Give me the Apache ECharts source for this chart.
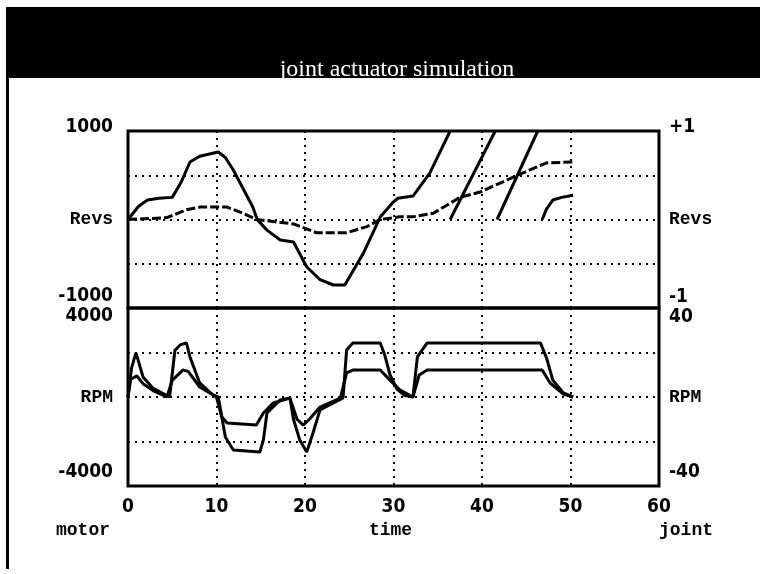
<!DOCTYPE html>
<html><head><meta charset="utf-8">
<script src="https://cdn.jsdelivr.net/npm/echarts@6/dist/echarts.min.js"></script>
<style>html,body{margin:0;padding:0;background:#fff}#c{width:760px;height:574px}</style>
</head><body><div id="c"></div>
<script>
// ---------- data ----------
const titleText = 'joint actuator simulation';
const xMin = 0, xMax = 60, xStep = 10;
const xBottomNames = {0: 'motor', 30: 'time', 60: 'joint'};
const revsLeftLabels = {'1000': '1000', '0': 'Revs', '-1000': '-1000'};
const revsRightLabels = {'1': '+1', '0': 'Revs', '-1': '-1'};
const rpmLeftLabels = {'4000': '4000', '0': 'RPM', '-4000': '-4000'};
const rpmRightLabels = {'40': '40', '0': 'RPM', '-40': '-40'};

// motor revs (wraps back to 0 after reaching 1000; null = break)
const motorRevsT = [0, 1.2, 2.2, 3.5, 5.0, 6.0, 7.0, 8.1, 10.2, 11.0, 11.9, 13.0, 14.1, 14.6, 15.7, 17.2, 18.7, 20.2, 21.7, 23.2, 24.5, 26.6, 28.5, 30.0, 30.5, 32.2, 34.1, 36.4,
  36.4, 36.4, 41.5,
  41.5, 41.7, 46.3,
  46.3, 46.8, 47.3, 48.0, 49.0, 50.3];
const motorRevsV = [0, 150, 220, 240, 250, 420, 650, 715, 763, 700, 560, 350, 141, 0, -120, -232, -254, -537, -680, -740, -740, -380, 28, 200, 240, 265, 525, 1000,
  null, 0, 1000,
  null, 0, 1000,
  null, 0, 120, 220, 250, 275];
// joint revs (right axis, -1..+1)
const jointRevsT = [0, 4.4, 6.6, 8.1, 11.2, 13.0, 14.5, 18.7, 21.3, 24.7, 27.0, 28.5, 30.7, 32.2, 34.5, 37.5, 39.8, 44.0, 47.3, 50.3];
const jointRevsV = [0, 0.02, 0.11, 0.14, 0.14, 0.07, 0, -0.05, -0.15, -0.15, -0.08, 0, 0.03, 0.03, 0.07, 0.25, 0.31, 0.50, 0.64, 0.65];
// motor RPM (left axis, -4000..4000)
const motorRpmT = [0, 0.4, 0.9, 1.7, 2.8, 4.7, 5.3, 5.9, 6.6, 7.0, 8.1, 9.6, 10.2, 10.6, 11.0, 11.9, 14.9, 15.3, 15.7, 17.2, 18.3, 18.7, 19.4, 20.2, 20.9, 21.7, 23.2, 24.3, 24.7, 25.4, 28.5, 29.0, 29.6, 30.4, 31.2, 32.2, 32.7, 33.8, 46.6, 47.3, 48.0, 49.2, 50.3];
const motorRpmV = [0, 1300, 1980, 900, 400, 0, 2100, 2340, 2430, 1800, 630, 90, 0, -900, -1800, -2380, -2470, -1930, -720, -130, -45, -1000, -1930, -2470, -1620, -580, -270, -45, 2110, 2430, 2430, 1900, 1000, 350, 80, 0, 1800, 2430, 2430, 1750, 760, 180, 0];
// joint RPM (right axis, -40..40)
const jointRpmT = [0, 0.3, 1.0, 1.7, 3.0, 4.4, 5.0, 6.2, 6.8, 8.1, 10.0, 10.6, 11.2, 14.5, 15.3, 16.4, 18.3, 19.1, 19.8, 20.5, 21.7, 24.0, 24.7, 25.4, 28.5, 29.6, 30.7, 32.2, 32.9, 33.8, 46.8, 47.7, 49.2, 50.3];
const jointRpmV = [0, 8, 9.5, 6, 2.5, 0, 7.5, 12.1, 11.5, 4.5, 0, -9, -11.7, -12.6, -7.2, -2.7, -0.5, -10, -12.6, -10, -4.5, -0.5, 10.8, 12.1, 12.1, 7.6, 3.2, 0, 9.9, 12.1, 12.1, 6.3, 1.3, 0];

// ---------- build ----------
const pairs = (T, V) => T.map((t, i) => [t, V[i] === null ? '-' : V[i]]);
const NUM_FONT = "'Liberation Sans Narrow','DejaVu Sans Condensed','DejaVu Sans',sans-serif";
const MONO_FONT = "'Liberation Mono','DejaVu Sans Mono',monospace";
const numStyle = (pad) => ({fontFamily: NUM_FONT, fontWeight: 'bold', fontSize: 19, color: '#000', padding: pad});
const wordStyle = (pad) => ({fontFamily: MONO_FONT, fontWeight: 'bold', fontSize: 18, color: '#000', padding: pad});
const dotted = {show: true, lineStyle: {type: [2, 5], width: 2, color: '#000'}};

function yLabel(map, rich, margin) {
  return {
    show: true, margin: margin,
    formatter: (v) => {
      const key = String(+v.toFixed(6));
      const txt = map[key];
      if (txt === undefined) return '';
      if (key === '0') return '{w|' + txt + '}';
      return (+key > 0 ? '{hi|' : '{lo|') + txt + '}';
    },
    rich: rich
  };
}

const L = 128, R = 760 - 659, T0 = 131, MID = 308, B = 486;

const option = {
  animation: false,
  backgroundColor: '#fff',
  title: {
    text: titleText, left: 392, top: 53, textAlign: 'center',
    textStyle: {color: '#fff', fontFamily: "'Liberation Serif','DejaVu Serif',serif", fontWeight: 'normal', fontSize: 24}
  },
  graphic: [
    {type: 'rect', z: -10, shape: {x: 6, y: 7, width: 754, height: 71}, style: {fill: '#000'}},
    {type: 'rect', z: -10, shape: {x: 6, y: 7, width: 3, height: 562}, style: {fill: '#000'}}
  ],
  grid: [
    {left: L, right: R, top: T0, height: MID - T0, show: true, borderColor: '#000', borderWidth: 3, backgroundColor: 'transparent'},
    {left: L, right: R, top: MID, height: B - MID, show: true, borderColor: '#000', borderWidth: 3, backgroundColor: 'transparent'}
  ],
  xAxis: [
    {gridIndex: 0, type: 'value', min: xMin, max: xMax, interval: xStep, axisLine: {show: false}, axisTick: {show: false}, axisLabel: {show: false}, splitLine: dotted},
    {gridIndex: 1, type: 'value', min: xMin, max: xMax, interval: xStep, axisLine: {show: false}, axisTick: {show: false}, splitLine: dotted,
      axisLabel: {margin: 12, fontFamily: NUM_FONT, fontWeight: 'bold', fontSize: 19, color: '#000', formatter: (v) => String(v)}},
    {gridIndex: 1, type: 'value', position: 'bottom', offset: 25, min: xMin, max: xMax, interval: xStep, axisLine: {show: false}, axisTick: {show: false}, splitLine: {show: false},
      axisLabel: {margin: 10, formatter: (v) => {
        const n = xBottomNames[v];
        if (!n) return '';
        return '{' + (v === 0 ? 'l' : v === 60 ? 'r' : 'c') + '|' + n + '}';
      }, rich: {l: wordStyle([0, 90, 0, 0]), c: wordStyle([0, 6, 0, 0]), r: wordStyle([0, 0, 0, 54])}}}
  ],
  yAxis: [
    {gridIndex: 0, type: 'value', position: 'left', min: -1000, max: 1000, interval: 500, axisLine: {show: false}, axisTick: {show: false}, splitLine: dotted,
      axisLabel: yLabel(revsLeftLabels, {hi: numStyle([0, 0, 8, 0]), lo: numStyle([0, 0, 24, 0]), w: wordStyle([0, 0, 0, 0])}, 15)},
    {gridIndex: 0, type: 'value', position: 'right', min: -1, max: 1, interval: 0.5, axisLine: {show: false}, axisTick: {show: false}, splitLine: {show: false},
      axisLabel: yLabel(revsRightLabels, {hi: numStyle([0, 0, 8, 0]), lo: numStyle([0, 0, 22, 0]), w: wordStyle([0, 0, 0, 0])}, 10)},
    {gridIndex: 1, type: 'value', position: 'left', min: -4000, max: 4000, interval: 2000, axisLine: {show: false}, axisTick: {show: false}, splitLine: dotted,
      axisLabel: yLabel(rpmLeftLabels, {hi: numStyle([16, 0, 0, 0]), lo: numStyle([0, 0, 28, 0]), w: wordStyle([0, 0, 0, 0])}, 15)},
    {gridIndex: 1, type: 'value', position: 'right', min: -40, max: 40, interval: 20, axisLine: {show: false}, axisTick: {show: false}, splitLine: {show: false},
      axisLabel: yLabel(rpmRightLabels, {hi: numStyle([18, 0, 0, 0]), lo: numStyle([0, 0, 28, 0]), w: wordStyle([0, 0, 0, 0])}, 10)}
  ],
  series: [
    {name: 'motor revs', type: 'line', xAxisIndex: 0, yAxisIndex: 0, showSymbol: false, connectNulls: false,
      lineStyle: {color: '#000', width: 3}, data: pairs(motorRevsT, motorRevsV)},
    {name: 'joint revs', type: 'line', xAxisIndex: 0, yAxisIndex: 1, showSymbol: false,
      lineStyle: {color: '#000', width: 3, type: [9, 3]}, data: pairs(jointRevsT, jointRevsV)},
    {name: 'motor RPM', type: 'line', xAxisIndex: 1, yAxisIndex: 2, showSymbol: false,
      lineStyle: {color: '#000', width: 3}, data: pairs(motorRpmT, motorRpmV)},
    {name: 'joint RPM', type: 'line', xAxisIndex: 1, yAxisIndex: 3, showSymbol: false,
      lineStyle: {color: '#000', width: 3}, data: pairs(jointRpmT, jointRpmV)}
  ]
};
const chart = echarts.init(document.getElementById('c'), null, {renderer: 'canvas'});
chart.setOption(option);
</script></body></html>
